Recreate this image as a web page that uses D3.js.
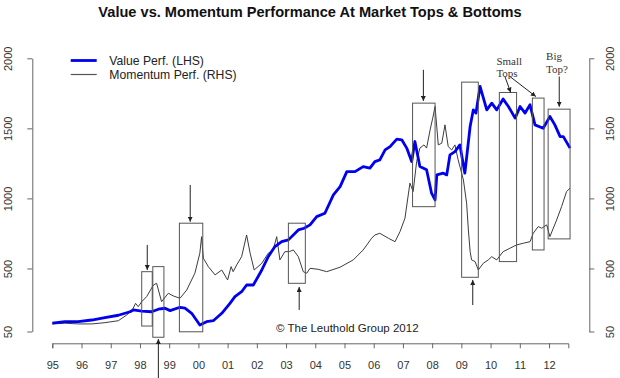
<!DOCTYPE html>
<html>
<head>
<meta charset="utf-8">
<script src="https://cdn.jsdelivr.net/npm/d3@7"></script>
<style>
  html, body { margin: 0; padding: 0; background: #fff; }
  svg { display: block; font-family: Arial, "Liberation Sans", sans-serif; }
</style>
</head>
<body>
<svg id="chart" width="620" height="378"></svg>
<script>
// ---------------- DATA ----------------
const yearTicks = [1995,1996,1997,1998,1999,2000,2001,2002,2003,2004,2005,2006,2007,2008,2009,2010,2011,2012];
const yearLabels = ["95","96","97","98","99","00","01","02","03","04","05","06","07","08","09","10","11","12"];
const valueTicks = [50, 500, 1000, 1500, 2000];
const valueLabels = ["50", "500", "1000", "1500", "2000"];

const blueYears = [1995.00,1995.43,1995.89,1996.35,1996.80,1997.26,1997.66,1997.77,1998.06,1998.40,1998.63,1998.86,1999.03,1999.37,1999.54,1999.77,2000.05,2000.28,2000.51,2000.80,2001.08,2001.25,2001.48,2001.65,2001.88,2002.17,2002.39,2002.62,2002.85,2003.08,2003.42,2003.62,2003.82,2004.05,2004.33,2004.62,2004.85,2005.08,2005.36,2005.64,2005.87,2006.04,2006.21,2006.39,2006.56,2006.79,2006.96,2007.13,2007.30,2007.41,2007.58,2007.81,2007.98,2008.10,2008.16,2008.38,2008.50,2008.61,2008.78,2008.95,2009.12,2009.30,2009.41,2009.50,2009.64,2009.87,2010.04,2010.21,2010.43,2010.61,2010.84,2011.01,2011.18,2011.35,2011.52,2011.80,2012.03,2012.20,2012.38,2012.49,2012.72];
const blueValues = [109,120,120,132,149,166,191,204,196,191,209,216,199,223,216,180,96,120,127,180,251,299,334,382,382,489,584,656,691,704,775,787,811,870,894,1025,1084,1191,1191,1227,1216,1263,1275,1346,1370,1423,1418,1359,1263,1406,1227,1204,1037,989,1168,1180,1168,1311,1334,1382,1180,1513,1632,1609,1799,1632,1680,1632,1709,1656,1573,1656,1609,1668,1525,1501,1584,1525,1441,1441,1359];

const grayYears = [1995.00,1995.43,1995.89,1996.35,1996.80,1997.26,1997.55,1997.74,1997.85,1997.94,1998.06,1998.23,1998.46,1998.57,1998.74,1998.97,1999.14,1999.37,1999.60,1999.88,2000.05,2000.11,2000.17,2000.34,2000.57,2000.80,2001.00,2001.12,2001.19,2001.31,2001.48,2001.65,2001.77,2001.91,2002.17,2002.39,2002.56,2002.68,2002.79,2002.96,2003.11,2003.25,2003.42,2003.59,2003.71,2003.82,2004.10,2004.39,2004.85,2005.30,2005.64,2005.93,2006.04,2006.21,2006.50,2006.73,2006.90,2007.07,2007.24,2007.35,2007.47,2007.58,2007.72,2007.81,2007.93,2008.02,2008.10,2008.21,2008.33,2008.44,2008.55,2008.67,2008.78,2008.89,2009.07,2009.18,2009.24,2009.30,2009.35,2009.47,2009.58,2009.75,2009.92,2010.04,2010.21,2010.43,2010.66,2010.89,2011.12,2011.35,2011.46,2011.63,2011.75,2011.92,2012.03,2012.26,2012.43,2012.60,2012.72];
const grayValues = [104,109,104,104,113,127,168,204,251,227,263,299,382,394,263,323,304,287,346,466,609,727,573,513,454,489,418,513,477,525,584,739,609,489,537,609,632,727,561,620,620,632,584,477,466,501,494,477,509,561,632,716,739,751,716,691,763,859,1109,1049,1263,1359,1382,1359,1489,1573,1656,1382,1394,1525,1370,1346,1382,1275,1132,966,775,620,561,549,489,537,561,584,561,620,644,668,680,691,751,799,787,811,727,846,941,1049,1073];

// annotation boxes (years / values)
const boxStart  = [1998.06, 1998.44, 1999.35, 2003.08, 2007.33, 2009.01, 2010.30, 2011.43, 2011.97];
const boxEnd    = [1998.42, 1998.82, 2000.15, 2003.66, 2008.10, 2009.58, 2010.89, 2011.83, 2012.72];
const boxTop    = [477, 513, 823, 823, 1680, 1830, 1756, 1716, 1637];
const boxBottom = [89, 9, 48, 394, 941, 437, 549, 632, 711];

// annotation arrows: from (year, value) to (year, value)
const arrowFromYear  = [1998.25, 1998.63, 1999.72, 2003.45, 2007.70, 2009.39, 2012.35, 2010.49, 2010.66];
const arrowFromValue = [668, -282, 1096, 204, 1918, 239, 1870, 1870, 1870];
const arrowToYear    = [1998.25, 1998.63, 1999.72, 2003.45, 2007.70, 2009.39, 2012.35, 2010.69, 2011.55];
const arrowToValue   = [489, -4, 834, 368, 1696, 418, 1654, 1756, 1727];

const titleText = "Value vs. Momentum Performance At Market Tops & Bottoms";
const legendLabels = ["Value Perf. (LHS)", "Momentum Perf. (RHS)"];
const noteLines = [["Small", "Tops"], ["Big", "Top?"]];
const noteYears = [2010.20, 2011.90];
const noteValues = [1955, 1990];
const creditText = "\u00A9 The Leuthold Group 2012";

// ---------------- CHART ----------------
const svg = d3.select("#chart");
const x = d3.scaleLinear().domain([1995, 2012.66]).range([52.3, 568.3]);
const y = d3.scaleLinear().domain([50, 2000]).range([331.5, 58.3]);

const axisColor = "#666";
const labelColor = "#333";
const sans = "Arial, 'Liberation Sans', sans-serif";
const serif = "'Liberation Serif', 'Times New Roman', serif";

// title
svg.append("text").attr("x", 310).attr("y", 17)
  .attr("text-anchor", "middle").attr("font-weight", "bold")
  .style("font-family", sans)
  .attr("font-size", "14.6px").attr("fill", "#111").text(titleText);

// arrow marker
svg.append("defs").append("marker")
  .attr("id", "ah").attr("viewBox", "0 0 10 10")
  .attr("refX", 10).attr("refY", 5)
  .attr("markerWidth", 5).attr("markerHeight", 5)
  .attr("markerUnits", "userSpaceOnUse")
  .attr("orient", "auto")
  .append("path").attr("d", "M0,0 L10,5 L0,10 Z").attr("fill", "#222");

// x axis
const xAxis = d3.axisBottom(x).tickValues(yearTicks)
  .tickFormat((d, i) => yearLabels[i]).tickSize(5).tickSizeOuter(5);
const gx = svg.append("g").attr("transform", "translate(0,343.3)").call(xAxis);
gx.select(".domain").attr("stroke", axisColor);
gx.selectAll(".tick line").attr("stroke", axisColor);
gx.selectAll(".tick text").attr("fill", labelColor).attr("font-size", "11px")
  .attr("y", 22).attr("dy", "0.32em").style("font-family", sans);

// left axis
const yAxisL = d3.axisLeft(y).tickValues(valueTicks)
  .tickFormat((d, i) => valueLabels[i]).tickSize(5).tickSizeOuter(0);
const gl = svg.append("g").attr("transform", "translate(32.3,0)").call(yAxisL);
gl.select(".domain").attr("stroke", axisColor);
gl.selectAll(".tick line").attr("stroke", axisColor);
gl.selectAll(".tick text").attr("fill", labelColor).attr("font-size", "11px")
  .attr("x", 0).attr("dy", null).attr("text-anchor", "middle")
  .attr("dominant-baseline", "central")
  .attr("transform", "translate(-24,0) rotate(-90)")
  .style("font-family", sans);

// right axis
const yAxisR = d3.axisRight(y).tickValues(valueTicks)
  .tickFormat((d, i) => valueLabels[i]).tickSize(5).tickSizeOuter(0);
const gr = svg.append("g").attr("transform", "translate(589.3,0)").call(yAxisR);
gr.select(".domain").attr("stroke", axisColor);
gr.selectAll(".tick line").attr("stroke", axisColor);
gr.selectAll(".tick text").attr("fill", labelColor).attr("font-size", "11px")
  .attr("x", 0).attr("dy", null).attr("text-anchor", "middle")
  .attr("dominant-baseline", "central")
  .attr("transform", "translate(21,0) rotate(-90)")
  .style("font-family", sans);

// lines
const grayData = grayYears.map((d, i) => [d, grayValues[i]]);
const blueData = blueYears.map((d, i) => [d, blueValues[i]]);
const line = d3.line().x(d => x(d[0])).y(d => y(d[1]));

svg.append("path").datum(grayData).attr("d", line)
  .attr("fill", "none").attr("stroke", "#3c3c3c").attr("stroke-width", 1)
  .attr("stroke-linejoin", "round");
svg.append("path").datum(blueData).attr("d", line)
  .attr("fill", "none").attr("stroke", "#0000f0").attr("stroke-width", 2.8)
  .attr("stroke-linejoin", "round");

// boxes
svg.append("g").selectAll("rect").data(boxStart).join("rect")
  .attr("x", (d, i) => x(d))
  .attr("y", (d, i) => y(boxTop[i]))
  .attr("width", (d, i) => x(boxEnd[i]) - x(d))
  .attr("height", (d, i) => y(boxBottom[i]) - y(boxTop[i]))
  .attr("fill", "none").attr("stroke", "#555").attr("stroke-width", 1);

// arrows
svg.append("g").selectAll("line").data(arrowFromYear).join("line")
  .attr("x1", d => x(d)).attr("y1", (d, i) => y(arrowFromValue[i]))
  .attr("x2", (d, i) => x(arrowToYear[i])).attr("y2", (d, i) => y(arrowToValue[i]))
  .attr("stroke", "#222").attr("stroke-width", 1)
  .attr("marker-end", "url(#ah)");

// notes (each line its own text element)
noteLines.forEach((lines, i) => {
  lines.forEach((s, j) => {
    svg.append("text")
      .attr("x", x(noteYears[i])).attr("y", y(noteValues[i]) + j * 12.8)
      .style("font-family", serif)
      .attr("font-size", "11px").attr("fill", "#3a3330").text(s);
  });
});

// legend
const legColors = ["#0000f0", "#555"];
const legWidths = [2.8, 1.2];
legendLabels.forEach((lab, i) => {
  const ly = 60.5 + i * 14;
  svg.append("line").attr("x1", 70.7).attr("x2", 96.7).attr("y1", ly).attr("y2", ly)
    .attr("stroke", legColors[i]).attr("stroke-width", legWidths[i]);
  svg.append("text").attr("x", 109.3).attr("y", ly).attr("dy", "0.35em")
    .style("font-family", sans)
    .attr("font-size", "12.2px").attr("fill", "#222").text(lab);
});

// credit
svg.append("text").attr("x", 276).attr("y", 328).attr("dy", "0.35em")
  .style("font-family", sans)
  .attr("font-size", "11.5px").attr("fill", "#222").text(creditText);
</script>
</body>
</html>
